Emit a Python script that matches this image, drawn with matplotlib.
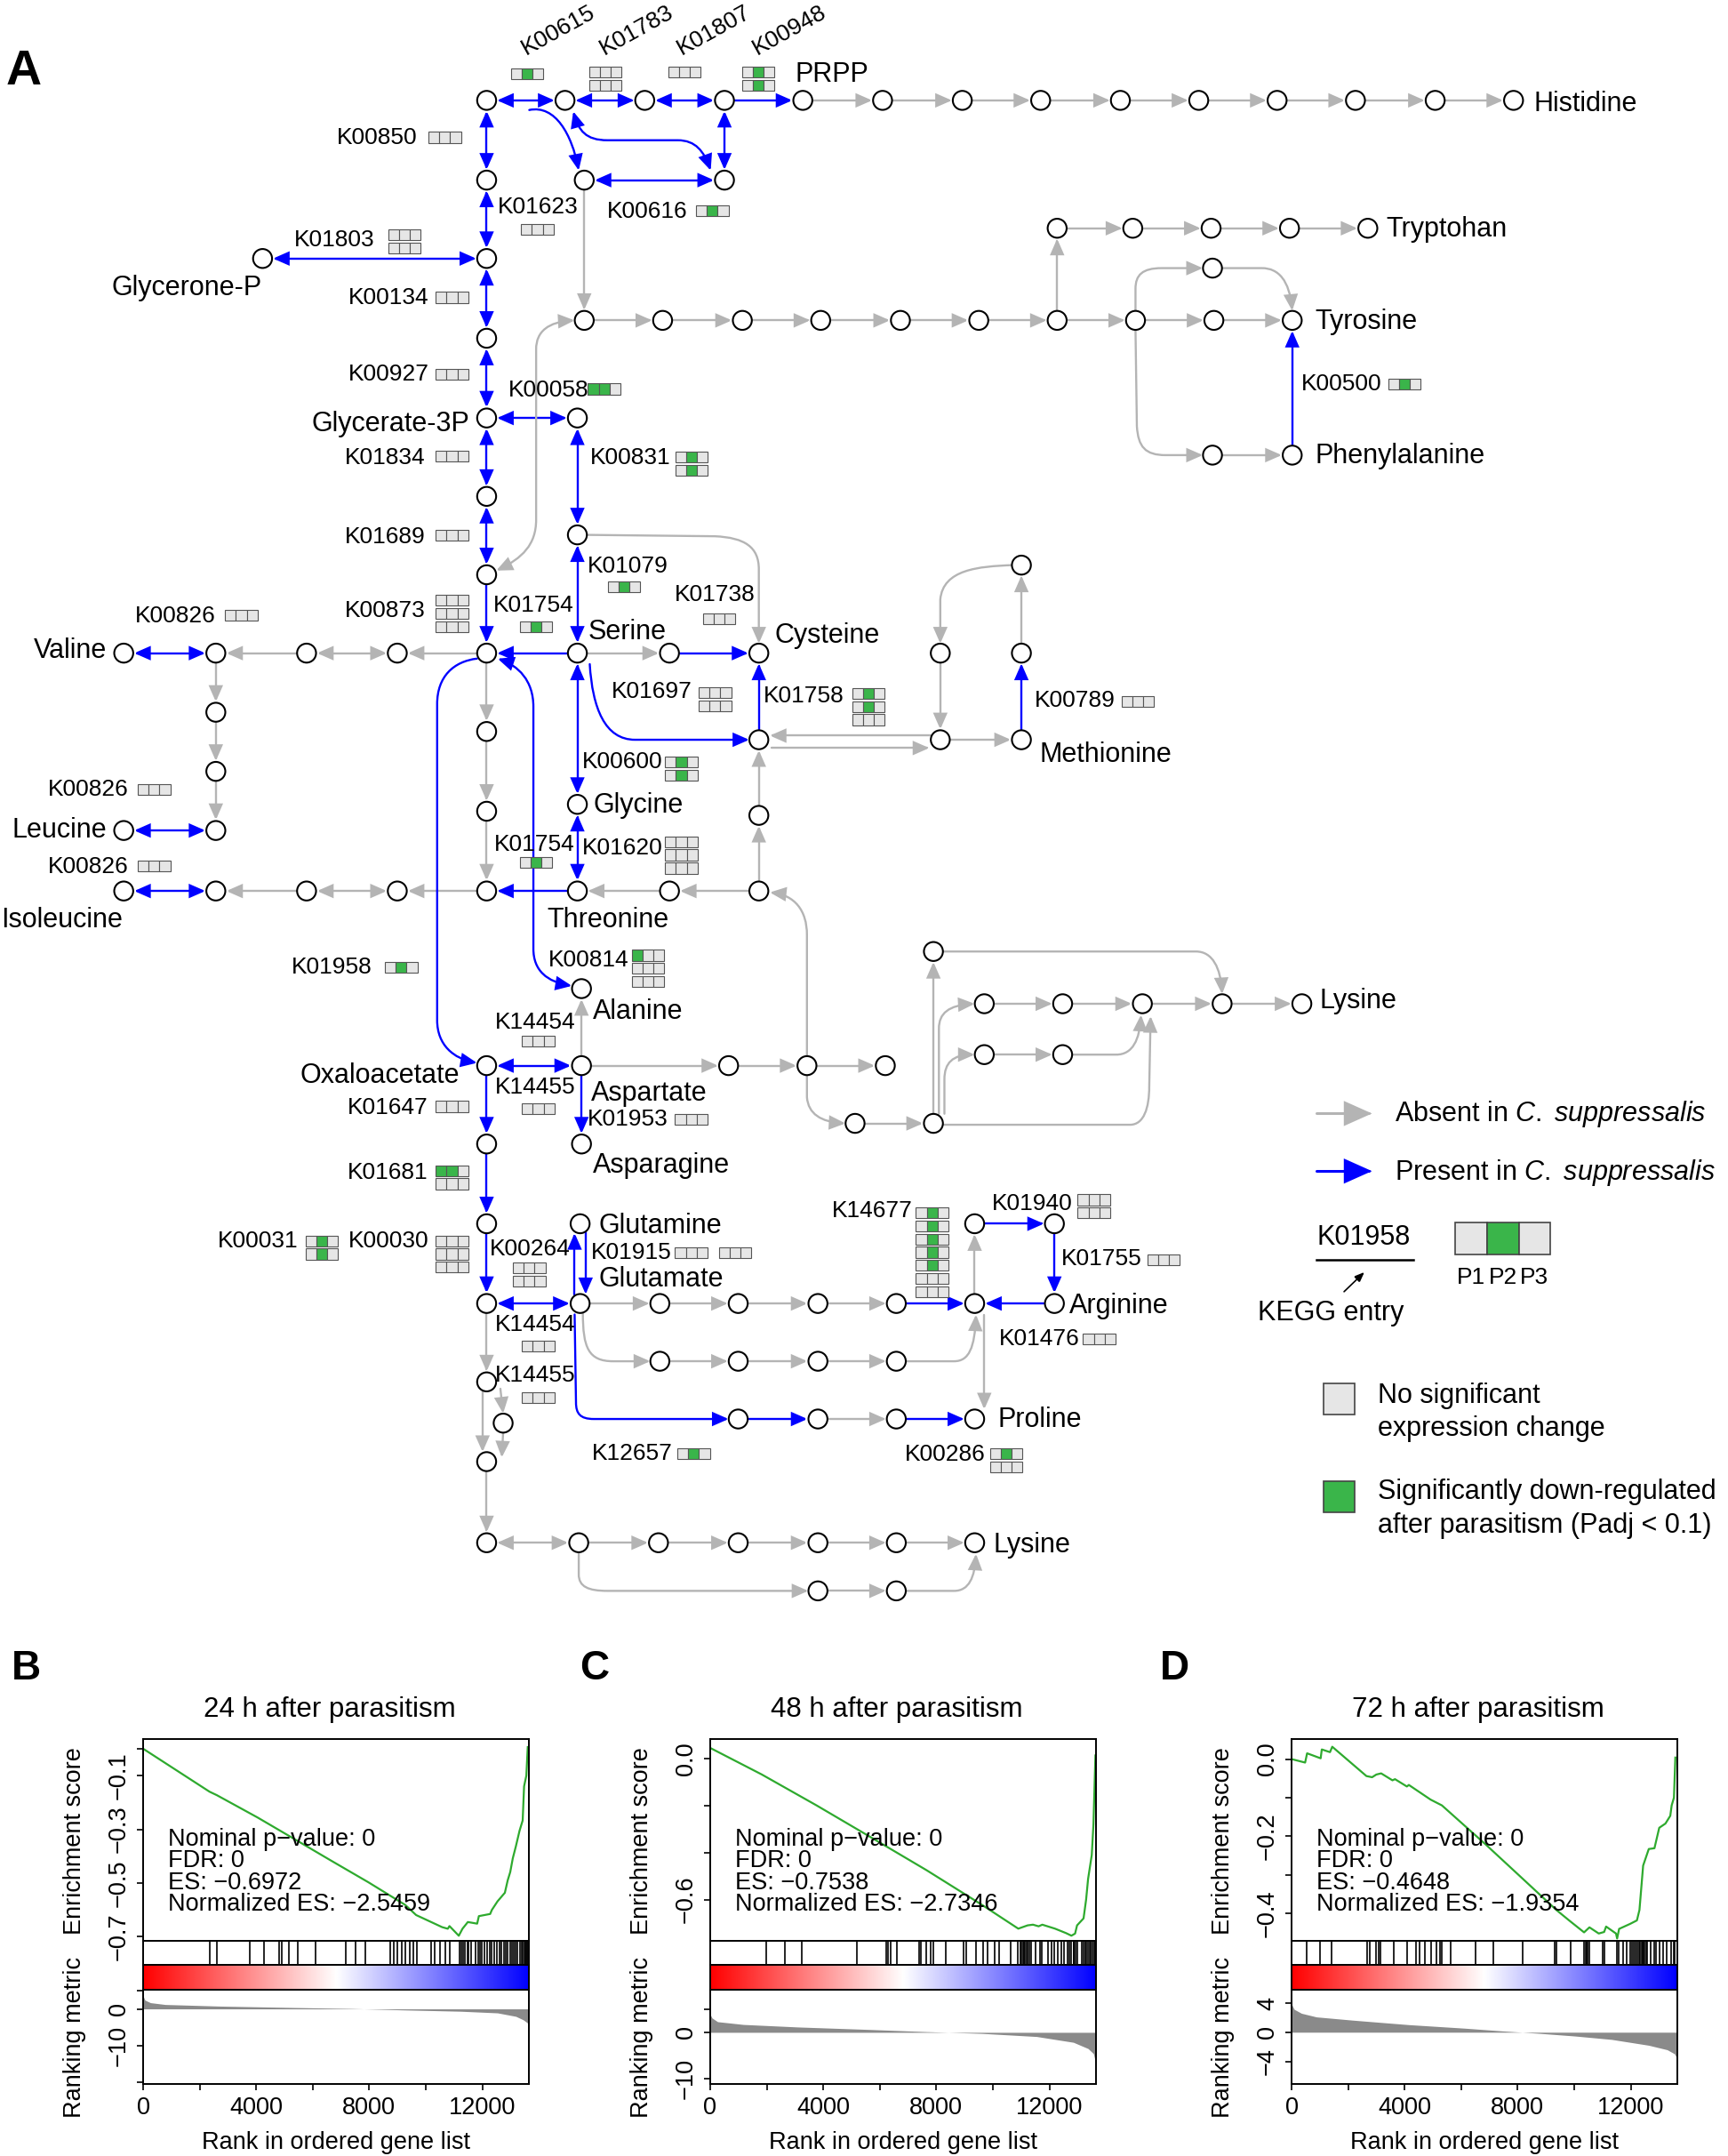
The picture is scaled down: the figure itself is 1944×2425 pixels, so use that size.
import numpy as np
import matplotlib
matplotlib.use('Agg')
import matplotlib.pyplot as plt
from matplotlib.patches import FancyArrowPatch, Circle, Rectangle, ArrowStyle
from matplotlib.path import Path
from matplotlib.colors import LinearSegmentedColormap

plt.rcParams['font.family'] = ['Liberation Sans', 'DejaVu Sans']
plt.rcParams['mathtext.fontset'] = 'custom'
plt.rcParams['mathtext.rm'] = 'Liberation Sans'
plt.rcParams['mathtext.it'] = 'Liberation Sans:italic'

# ---------------------------------------------------------------- data
NODES = {
    't0': (354, 73), 't1': (411, 73), 't2': (469, 73), 't3': (527, 73), 'PRPP': (584, 73),
    'h1': (642, 73), 'h2': (700, 73), 'h3': (757, 73), 'h4': (815, 73), 'h5': (872, 73),
    'h6': (929, 73), 'h7': (986, 73), 'h8': (1044, 73), 'His': (1101, 73),
    'u1': (425, 131), 'u2': (527, 131),
    'c131': (354, 131), 'c188': (354, 188), 'c246': (354, 246), 'c304': (354, 304),
    'c361': (354, 361), 'c418': (354, 418), 'hub': (354, 475), 'c532': (354, 532),
    'c590': (354, 590), 'c648': (354, 648), 'Oxa': (354, 775), 'c832': (354, 832),
    'c890': (354, 890), 'c948': (354, 948), 'c1005': (354, 1005), 'c1063': (354, 1063),
    'c1122': (354, 1122), 'x366': (366, 1035),
    'GlyP': (191, 188), 's304': (420, 304), 's389': (420, 389), 'Ser': (420, 475),
    's487': (487, 475), 'Cys': (552, 475), 'c538': (552, 538),
    'm1': (684, 475), 'm2': (743, 475), 'm3': (743, 411), 'm4': (684, 538), 'Met': (743, 538),
    'Gly': (420, 585), 'c593': (552, 593), 'Thr': (420, 648), 't487': (487, 648),
    't552': (552, 648), 'Ala': (423, 719),
    'g0': (425, 233), 'g1': (482, 233), 'g2': (540, 233), 'g3': (597, 233), 'g4': (655, 233),
    'g5': (712, 233), 'g6': (769, 233), 'g7': (826, 233), 'g8': (883, 233), 'Tyr': (940, 233),
    'w0': (769, 166), 'w1': (824, 166), 'w2': (881, 166), 'w3': (938, 166), 'Trp': (995, 166),
    'ty1': (882, 195), 'ph1': (882, 331), 'Phe': (940, 331),
    'v290': (289, 475), 'v223': (223, 475), 'v157': (157, 475), 'Val': (90, 475),
    'l518': (157, 518), 'l561': (157, 561), 'l604': (157, 604), 'Leu': (90, 604),
    'i290': (289, 648), 'i223': (223, 648), 'i157': (157, 648), 'Ile': (90, 648),
    'Asp': (423, 775), 'a530': (530, 775), 'a587': (587, 775), 'a644': (644, 775),
    'Asn': (423, 832), 'a622': (622, 817), 'a679': (679, 817),
    'k679': (679, 692), 'k716a': (716, 730), 'k773a': (773, 730), 'k831': (831, 730),
    'k889': (889, 730), 'Lys1': (947, 730), 'k716b': (716, 767), 'k773b': (773, 767),
    'Gln': (422, 890), 'Glu': (422, 948), 'e480': (480, 948), 'e537': (537, 948),
    'e595': (595, 948), 'e652': (652, 948), 'e709': (709, 948), 'Arg': (767, 948),
    'r709': (709, 890), 'r767': (767, 890), 'f480': (480, 990), 'f537': (537, 990),
    'f595': (595, 990), 'f652': (652, 990), 'p537': (537, 1032), 'p595': (595, 1032),
    'p652': (652, 1032), 'Pro': (709, 1032),
    'y421': (421, 1122), 'y479': (479, 1122), 'y537': (537, 1122), 'y595': (595, 1122),
    'y652': (652, 1122), 'Lys2': (709, 1122), 'z595': (595, 1157), 'z652': (652, 1157),
}

BLUE_DOUBLE = [('t0', 't1'), ('t1', 't2'), ('t2', 't3'), ('t3', 'u2'), ('u1', 'u2'),
               ('t0', 'c131'), ('c131', 'c188'), ('c188', 'c246'), ('c246', 'c304'),
               ('c304', 'c361'), ('c361', 'c418'), ('GlyP', 'c188'), ('c304', 's304'),
               ('s304', 's389'), ('s389', 'Ser'), ('Ser', 'Gly'), ('Gly', 'Thr'),
               ('Val', 'v157'), ('Leu', 'l604'), ('Ile', 'i157'), ('Oxa', 'Asp'), ('c948', 'Glu')]
BLUE_SINGLE = [('t3', 'PRPP'), ('c418', 'hub'), ('Ser', 'hub'), ('Thr', 'c648'), ('s487', 'Cys'),
               ('c538', 'Cys'), ('Met', 'm2'), ('Phe', 'Tyr'), ('Oxa', 'c832'), ('c832', 'c890'),
               ('c890', 'c948'), ('Asp', 'Asn'), ('e652', 'e709'), ('Arg', 'e709'),
               ('r709', 'r767'), ('r767', 'Arg'), ('p537', 'p595'), ('p652', 'Pro')]
BLUE_OFFSET = [('Gln', 'Glu', 4), ('Glu', 'Gln', -4)]
GRAY_DOUBLE = [('v290', 'v223'), ('i290', 'i223'), ('c1122', 'y421')]
GRAY_SINGLE = [('PRPP', 'h1'), ('h1', 'h2'), ('h2', 'h3'), ('h3', 'h4'), ('h4', 'h5'),
               ('h5', 'h6'), ('h6', 'h7'), ('h7', 'h8'), ('h8', 'His'), ('u1', 'g0'),
               ('g0', 'g1'), ('g1', 'g2'), ('g2', 'g3'), ('g3', 'g4'), ('g4', 'g5'), ('g5', 'g6'),
               ('g6', 'g7'), ('g7', 'g8'), ('g8', 'Tyr'), ('g6', 'w0'), ('w0', 'w1'), ('w1', 'w2'),
               ('w2', 'w3'), ('w3', 'Trp'), ('ph1', 'Phe'), ('Ser', 's487'), ('m4', 'Met'),
               ('m2', 'm3'), ('m1', 'm4'), ('c593', 'c538'), ('t552', 'c593'), ('t552', 't487'),
               ('t487', 'Thr'), ('hub', 'v290'), ('v223', 'v157'), ('v157', 'l518'),
               ('l518', 'l561'), ('l561', 'l604'), ('c648', 'i290'), ('i223', 'i157'),
               ('hub', 'c532'), ('c532', 'c590'), ('c590', 'c648'), ('Asp', 'a530'),
               ('a530', 'a587'), ('a587', 'a644'), ('Asp', 'Ala'), ('a622', 'a679'),
               ('a679', 'k679'), ('k716a', 'k773a'), ('k773a', 'k831'), ('k831', 'k889'),
               ('k889', 'Lys1'), ('k716b', 'k773b'), ('Glu', 'e480'), ('e480', 'e537'),
               ('e537', 'e595'), ('e595', 'e652'), ('e709', 'r709'), ('f480', 'f537'),
               ('f537', 'f595'), ('f595', 'f652'), ('p595', 'p652'), ('c948', 'c1005'),
               ('c1063', 'c1122'), ('y421', 'y479'), ('y479', 'y537'), ('y537', 'y595'),
               ('y595', 'y652'), ('y652', 'Lys2'), ('z595', 'z652')]

# curved / routed connections: (colour, style, waypoints; a list = cubic segment)
CURVES = [
    ('b', '->', [(385, 80), [(404, 76), (416, 98), (421, 124)]]),
    ('b', '<->', [(417, 81), [(421, 95), (426, 102), (442, 102)], (493, 102),
                  [(506, 102), (512, 110), (517, 124)]]),
    ('b', '->', [(347, 479), [(330, 481), (318, 492), (318, 512)], (318, 742),
                 [(318, 760), (330, 770), (347, 773)]]),
    ('b', '<->', [(362, 479), [(377, 484), (388, 495), (388, 514)], (388, 690),
                  [(388, 706), (398, 714), (416, 717)]]),
    ('b', '->', [(429, 483), [(431, 515), (440, 538), (462, 538)], (545, 538)]),
    ('b', '->', [(418, 956), (419, 1020), [(419, 1028), (422, 1032), (432, 1032)], (530, 1032)]),
    ('g', '<->', [(361, 415), [(380, 406), (390, 396), (390, 378)], (390, 254),
                  [(390, 241), (399, 234), (418, 233)]]),
    ('g', '->', [(826, 226), (826, 210), [(826, 200), (831, 195), (845, 195)], (875, 195)]),
    ('g', '->', [(889, 195), (918, 195), [(930, 195), (938, 204), (940, 226)]]),
    ('g', '->', [(826, 240), (827, 310), [(828, 325), (833, 331), (848, 331)], (875, 331)]),
    ('g', '->', [(736, 411), [(712, 412), (686, 414), (684, 436)], (684, 468)]),
    ('g', '->', [(427, 389), (520, 390), [(542, 391), (552, 398), (552, 414)], (552, 468)]),
    ('g', '->', [(677, 535), (560, 535)]),
    ('g', '->', [(561, 544), (676, 544)]),
    ('g', '->', [(587, 768), (587, 680), [(587, 662), (578, 651), (560, 649)]]),
    ('g', '->', [(587, 782), (587, 798), [(588, 810), (597, 816), (615, 817)]]),
    ('g', '->', [(683, 810), (683, 748), [(683, 737), (690, 731), (709, 730)]]),
    ('g', '->', [(687, 810), (687, 785), [(687, 773), (693, 767), (709, 767)]]),
    ('g', '->', [(686, 692), (870, 692), [(882, 692), (888, 704), (889, 723)]]),
    ('g', '->', [(780, 767), (812, 767), [(824, 767), (829, 756), (830, 738)]]),
    ('g', '->', [(686, 818), (822, 818), [(832, 818), (836, 806), (836, 790)], (837, 739)]),
    ('g', '->', [(424, 955), [(424, 980), (428, 990), (446, 990)], (473, 990)]),
    ('g', '->', [(659, 990), (694, 990), [(705, 990), (709, 980), (710, 956)]]),
    ('g', '->', [(716, 956), (716, 1025)]),
    ('g', '->', [(351, 1012), (351, 1056)]),
    ('g', '->', [(364, 1010), (366, 1028)]),
    ('g', '->', [(366, 1042), (365, 1060)]),
    ('g', '->', [(421, 1129), (421, 1145), [(421, 1154), (428, 1157), (442, 1157)], (588, 1157)]),
    ('g', '->', [(659, 1157), (694, 1157), [(705, 1157), (709, 1147), (710, 1130)]]),
]

# KEGG entries: text, x, baseline
KEGG_ROT = [('K00615', 406, 22), ('K01783', 463, 22), ('K01807', 519.5, 22), ('K00948', 574.5, 22)]
KEGG_LABELS = [
    ('K00850', 244.8, 105.0), ('K01623', 362, 155.2), ('K00616', 441.4, 158.2),
    ('K01803', 214, 179.2), ('K00134', 253.5, 221.2), ('K00927', 253.5, 277.0),
    ('K00058', 369.5, 288.2), ('K01834', 250.6, 337.6), ('K00831', 429.2, 337.6),
    ('K01689', 250.6, 394.9), ('K01079', 427.4, 416.7), ('K01738', 490.5, 437.0),
    ('K00826', 98.2, 452.4), ('K00873', 250.6, 448.7), ('K01754', 358.8, 444.8),
    ('K01697', 445, 507.4), ('K01758', 555.4, 510.8), ('K00789', 752.3, 513.8),
    ('K00600', 423.6, 558.6), ('K00826', 34.6, 579.0), ('K00826', 34.6, 634.8),
    ('K01754', 359.4, 618.6), ('K01620', 423.6, 621.2), ('K01958', 212, 708.2),
    ('K00814', 398.6, 703.0), ('K14454', 360.3, 747.8), ('K14455', 360.3, 795.6),
    ('K01647', 252.6, 810.5), ('K01953', 427.5, 818.7), ('K01681', 252.6, 857.5),
    ('K00031', 158.2, 906.9), ('K00030', 253.5, 906.9), ('K00264', 356.5, 913.2),
    ('K01915', 429.8, 915.8), ('K14454', 360.3, 968.2), ('K14455', 360.3, 1004.8),
    ('K14677', 605, 885.2), ('K01940', 721.4, 880.0), ('K01755', 771.9, 920.4),
    ('K01476', 727, 978.5), ('K12657', 430.7, 1061.6), ('K00286', 657.9, 1062.1),
    ('K00500', 946.3, 283.9),
]
# expression grids: x, y(top), rows (1 = significantly down-regulated) for P1 P2 P3
GRIDS = [
    (371.5, 49.5, '010'), (428.4, 48.5, '000/000'), (486, 48.5, '000'), (539.8, 48.5, '010/010'),
    (311.7, 96, '000'), (379, 163, '000'), (506.3, 149.5, '010'), (282.3, 167, '000/000'),
    (317, 212.3, '000'), (317, 268.4, '000'), (427.7, 279, '110'), (317, 327.9, '000'),
    (491.3, 328.6, '010/010'), (317, 385.3, '000'), (442, 423, '010'), (511.2, 446, '000'),
    (163.7, 443.6, '000'), (317, 432.6, '000/000/000'), (378, 451.7, '010'),
    (508.2, 500, '000/000'), (619.8, 500.3, '010/010/000'), (815.8, 506, '000'),
    (483.8, 550.3, '010/010'), (100.2, 570, '000'), (100.2, 625.6, '000'), (378, 623.5, '010'),
    (483.8, 608.2, '000/000/000'), (280, 699.8, '010'), (459.6, 690.8, '100/000/000'),
    (379.6, 753, '000'), (379.6, 802.6, '000'), (317, 800.8, '000'), (491, 810.3, '000'),
    (317, 847.4, '110/000'), (222.3, 898.5, '010/010'), (317, 898.5, '000/000/000'),
    (373, 918.2, '000/000'), (491, 907, '000'), (523, 907, '000'), (379.6, 975.2, '000'),
    (379.6, 1012.3, '000'), (666.3, 878, '010/010/010/010/010/000/000'),
    (784, 868.6, '000/000'), (834.6, 912.3, '000'), (787.8, 969.6, '000'),
    (492.7, 1053.2, '010'), (720, 1053.2, '010/000'), (1009.8, 275.4, '010'),
]
# metabolite names: text, x, baseline, alignment
METABOLITES = [
    ('PRPP', 578.5, 59.2, 'left'), ('Histidine', 1116, 81, 'left'), ('Tryptohan', 1008, 172.3, 'left'),
    ('Tyrosine', 956.5, 239.4, 'left'), ('Phenylalanine', 956.5, 337.2, 'left'),
    ('Glycerone-P', 190.5, 214.7, 'right'), ('Glycerate-3P', 341.5, 313.6, 'right'),
    ('Serine', 427.5, 465, 'left'), ('Cysteine', 563.3, 467.2, 'left'),
    ('Methionine', 756, 554.2, 'left'), ('Valine', 77.4, 478.7, 'right'),
    ('Glycine', 431.9, 591.2, 'left'), ('Leucine', 77.4, 609.2, 'right'),
    ('Isoleucine', 0.5, 674.2, 'left'), ('Threonine', 398, 674.2, 'left'),
    ('Alanine', 431.3, 740.8, 'left'), ('Lysine', 960, 733.2, 'left'),
    ('Oxaloacetate', 334, 787.4, 'right'), ('Aspartate', 429.8, 800.2, 'left'),
    ('Asparagine', 431.3, 852.6, 'left'), ('Glutamine', 435.6, 896.8, 'left'),
    ('Glutamate', 435.6, 935.6, 'left'), ('Arginine', 777.7, 954.9, 'left'),
    ('Proline', 725.7, 1038, 'left'), ('Lysine', 722.8, 1128.8, 'left'),
]

# GSEA panels
N_GENES = 13650
ES_B_RANK = [0, 2350, 2610, 4050, 5350, 6660, 7970, 9270, 9660, 10580, 10780, 10840, 11170,
             11300, 11490, 11820, 11880, 12280, 12340, 12540, 12800, 12900, 12990, 13080,
             13190, 13320, 13430, 13480, 13560, 13610]
ES_B_VAL = [0.0, -0.160, -0.173, -0.256, -0.336, -0.417, -0.497, -0.581, -0.619, -0.664, -0.670,
            -0.660, -0.696, -0.670, -0.645, -0.651, -0.623, -0.615, -0.600, -0.568, -0.536,
            -0.490, -0.459, -0.408, -0.363, -0.305, -0.267, -0.140, -0.100, 0.006]
HITS_B = [2351, 2612, 3761, 4284, 4806, 4898, 5159, 5485, 6112, 7183, 7510, 7875, 8750, 8855,
          8985, 9142, 9273, 9430, 9560, 9691, 10187, 10317, 10513, 10709, 10840, 11206, 11258,
          11336, 11389, 11467, 11519, 11598, 11754, 11859, 11911, 11990, 12081, 12172, 12251,
          12342, 12408, 12512, 12603, 12669, 12773, 12825, 12904, 12995, 13060, 13125, 13191,
          13256, 13321, 13386, 13426, 13478, 13517, 13556, 13595, 13630]
RANK_B_X = [0, 65, 260, 780, 2740, 5350, 7320, 9270, 11230, 12540, 13190, 13450, 13610, 13650]
RANK_B_Y = [3.55, 2.4, 1.7, 1.2, 0.75, 0.37, 0.1, -0.3, -0.65, -1.1, -2.05, -3.0, -3.9, -4.9]

ES_C_RANK = [0, 1820, 3760, 5710, 7660, 9610, 10900, 11230, 11420, 11620, 11750, 12200, 12590,
             12780, 12910, 12980, 13210, 13300, 13370, 13500, 13560, 13630]
ES_C_VAL = [0.047, -0.066, -0.198, -0.336, -0.475, -0.622, -0.724, -0.710, -0.707, -0.714,
            -0.707, -0.724, -0.743, -0.754, -0.745, -0.710, -0.680, -0.600, -0.512, -0.410,
            -0.278, 0.015]
HITS_C = [1986, 2635, 3245, 5192, 6230, 6295, 6386, 6620, 7399, 7464, 7658, 7814, 7892, 8333,
          8956, 9047, 9411, 9670, 9800, 10060, 10228, 10618, 10877, 10968, 11007, 11059, 11098,
          11137, 11189, 11241, 11293, 11358, 11526, 11656, 11747, 11942, 12071, 12175, 12305,
          12435, 12526, 12656, 12720, 12785, 12850, 12876, 12915, 12980, 13136, 13214, 13266,
          13318, 13369, 13421, 13473, 13525, 13577, 13629]
RANK_C_X = [0, 65, 260, 1170, 3120, 5710, 7660, 9610, 11550, 12850, 13370, 13560, 13650]
RANK_C_Y = [3.85, 3.1, 2.3, 1.7, 1.15, 0.6, 0.15, -0.23, -0.9, -2.15, -3.5, -4.6, -6.9]

ES_D_RANK = [0, 480, 550, 1030, 1070, 1360, 1440, 2650, 2850, 3000, 3170, 3570, 3660, 4080,
             4150, 4920, 5320, 6880, 8060, 9370, 9820, 10350, 10540, 10870, 11060, 11130,
             11480, 11520, 11590, 11980, 12220, 12310, 12440, 12640, 12840, 13010, 13230,
             13400, 13450, 13530, 13580]
ES_D_VAL = [0.0, -0.009, 0.015, 0.002, 0.025, 0.018, 0.032, -0.044, -0.047, -0.040, -0.037,
            -0.055, -0.052, -0.071, -0.067, -0.105, -0.120, -0.222, -0.302, -0.391, -0.418,
            -0.449, -0.436, -0.452, -0.448, -0.434, -0.452, -0.465, -0.440, -0.427, -0.418,
            -0.391, -0.276, -0.233, -0.231, -0.178, -0.167, -0.147, -0.120, -0.100, 0.004]
HITS_D = [549, 1006, 1424, 2677, 2769, 2991, 3069, 3160, 3617, 4075, 4401, 4532, 4728, 4924,
          5120, 5250, 5315, 5642, 6517, 7144, 8163, 9299, 9365, 9887, 10344, 10410, 10449,
          10488, 10540, 10998, 11063, 11520, 11585, 11716, 11847, 11977, 12043, 12108, 12173,
          12239, 12304, 12343, 12383, 12422, 12461, 12500, 12539, 12579, 12696, 12827, 12892,
          13023, 13153, 13284, 13415, 13519, 13571]
RANK_D_X = [0, 90, 350, 880, 2180, 4140, 6100, 7410, 8720, 10030, 11330, 12640, 13290, 13550, 13650]
RANK_D_Y = [3.86, 3.15, 2.6, 2.1, 1.65, 1.04, 0.56, 0.19, -0.14, -0.52, -0.99, -1.79, -2.4, -2.96, -3.67]

STATS_B = ['Nominal p\u2212value: 0', 'FDR: 0', 'ES: \u22120.6972', 'Normalized ES: \u22122.5459']
STATS_C = ['Nominal p\u2212value: 0', 'FDR: 0', 'ES: \u22120.7538', 'Normalized ES: \u22122.7346']
STATS_D = ['Nominal p\u2212value: 0', 'FDR: 0', 'ES: \u22120.4648', 'Normalized ES: \u22121.9354']

# ---------------------------------------------------------------- style
BLUE = '#0000FF'
GRAY = '#B4B4B4'
GREEN = '#3AB54A'
CELL_GRAY = '#E6E6E6'
ES_GREEN = '#2EAA2E'
R_NODE = 6.9
COLS = {'b': BLUE, 'g': GRAY}

W, H = 1944, 2425
fig = plt.figure(figsize=(W / 100, H / 100), dpi=100)
ax = fig.add_axes([0, 0, 1, 1])
ax.set_xlim(0, 1257)
ax.set_ylim(1568, 0)
ax.axis('off')


def draw_path(pts, color, style, lw=1.7, hl=10.5, hw=4.6, z=2):
    verts = [pts[0]]
    codes = [Path.MOVETO]
    for it in pts[1:]:
        if isinstance(it, list):
            verts += it
            codes += [Path.CURVE4] * 3
        else:
            verts.append(it)
            codes.append(Path.LINETO)
    name = {'->': '-|>', '<->': '<|-|>'}[style]
    st = ArrowStyle(name, head_length=hl, head_width=hw)
    p = FancyArrowPatch(path=Path(verts, codes), arrowstyle=st, color=color, lw=lw,
                        mutation_scale=1, zorder=z, joinstyle='miter')
    ax.add_patch(p)


def straight(a, b, color, style, off=0.0):
    (x0, y0), (x1, y1) = NODES[a], NODES[b]
    d = np.hypot(x1 - x0, y1 - y0)
    ux, uy = (x1 - x0) / d, (y1 - y0) / d
    x0, x1 = x0 + off * (-uy), x1 + off * (-uy)
    y0, y1 = y0 + off * ux, y1 + off * ux
    R = np.sqrt(max(7.6 ** 2 - off ** 2, 1))
    draw_path([(x0 + ux * R, y0 + uy * R), (x1 - ux * R, y1 - uy * R)], color, style)


for a, b in BLUE_DOUBLE:
    straight(a, b, BLUE, '<->')
for a, b in BLUE_SINGLE:
    straight(a, b, BLUE, '->')
for a, b, o in BLUE_OFFSET:
    (xa, ya), (xb, yb) = NODES[a], NODES[b]
    sgn = 1 if yb > ya else -1
    draw_path([(xa + o, ya + sgn * 6.5), (xb + o, yb - sgn * 6.8)], BLUE, '->')
for a, b in GRAY_DOUBLE:
    straight(a, b, GRAY, '<->')
for a, b in GRAY_SINGLE:
    straight(a, b, GRAY, '->')
for c, s, pts in CURVES:
    draw_path(pts, COLS[c], s)

for name, (x, y) in NODES.items():
    ax.add_patch(Circle((x, y), R_NODE, fc='white', ec='black', lw=1.5, zorder=4))

for t, x, y in KEGG_ROT:
    ax.text(x, y, t, fontsize=19, rotation=29, ha='center', va='center', rotation_mode='anchor')
for t, x, y in KEGG_LABELS:
    ax.text(x, y, t, fontsize=19, ha='left', va='baseline', zorder=5)

CW = 7.9
for gx, gy, rows in GRIDS:
    for r, row in enumerate(rows.split('/')):
        for i, ch in enumerate(row):
            ax.add_patch(Rectangle((gx + i * CW, gy + r * 9.6), CW, CW,
                                   fc=GREEN if ch == '1' else CELL_GRAY, ec='#555555', lw=0.8, zorder=5))

for t, x, y, ha in METABOLITES:
    ax.text(x, y, t, fontsize=22, ha=ha, va='baseline', zorder=5)

ax.text(4.3, 61.4, 'A', fontsize=40, fontweight='bold', ha='left', va='baseline')

# ---------------------------------------------------------------- legend
draw_path([(957.7, 809.8), (998, 809.8)], GRAY, '->', lw=2.2, hl=19, hw=8.5)
draw_path([(957.7, 851.7), (998, 851.7)], BLUE, '->', lw=2.2, hl=19, hw=8.5)
ax.text(1014.4, 815.4, 'Absent in $\\mathit{C.\\ suppressalis}$', fontsize=22, va='baseline')
ax.text(1014.4, 857.8, 'Present in $\\mathit{C.\\ suppressalis}$', fontsize=22, va='baseline')
ax.text(957.7, 905.1, 'K01958', fontsize=22, va='baseline')
ax.plot([957.7, 1028], [916, 916], color='black', lw=1.8)
draw_path([(977.7, 939.4), (992.5, 925.2)], 'black', '->', lw=1.2, hl=6.5, hw=2.6)
ax.text(914.8, 960.0, 'KEGG entry', fontsize=22, va='baseline')
for i, ch in enumerate('010'):
    ax.add_patch(Rectangle((1058.7 + i * 23.1, 889.3), 23.1, 23.3,
                           fc=GREEN if ch == '1' else CELL_GRAY, ec='#444444', lw=1.2, zorder=5))
for i, t in enumerate(['P1', 'P2', 'P3']):
    ax.text(1070.2 + i * 23.0, 933.6, t, fontsize=19, ha='center', va='baseline')
ax.add_patch(Rectangle((962.8, 1006.4), 22.9, 22.6, fc=CELL_GRAY, ec='#444444', lw=1.2))
ax.add_patch(Rectangle((962.8, 1077.0), 22.9, 22.6, fc=GREEN, ec='#444444', lw=1.2))
ax.text(1002.3, 1020.1, 'No significant', fontsize=22, va='baseline')
ax.text(1002.3, 1044.4, 'expression change', fontsize=22, va='baseline')
ax.text(1002.3, 1090.4, 'Significantly down-regulated', fontsize=22, va='baseline')
ax.text(1002.3, 1114.7, 'after parasitism (Padj < 0.1)', fontsize=22, va='baseline')

# ---------------------------------------------------------------- GSEA panels
RWB = LinearSegmentedColormap.from_list('rwb', ['#FF0000', '#FFFFFF', '#0000FF'])
FS = 19.5


def style_ax(a):
    for s in a.spines.values():
        s.set_linewidth(1.4)
    a.tick_params(direction='out', length=5, width=1.2, labelsize=FS, pad=5)


def gsea_panel(left, letter, title, es_r, es_v, hits, rk_x, rk_y, es_lim, es_ticks, es_lbls,
               rk_lim, rk_ticks, rk_lbls, stats):
    w = 434

    def fa(top, bot):
        return fig.add_axes([left / W, 1 - bot / H, w / W, (bot - top) / H])

    a1 = fa(1956, 2183)
    a2 = fa(2183, 2210)
    a3 = fa(2210, 2238)
    a4 = fa(2238, 2344)
    for a in (a1, a2, a3, a4):
        style_ax(a)
        a.set_xlim(0, N_GENES)
    a1.plot(es_r, es_v, color=ES_GREEN, lw=1.6)
    a1.set_ylim(*es_lim)
    a1.set_xticks([])
    a1.set_yticks(es_ticks)
    a1.set_yticklabels(es_lbls, rotation=90, va='center')
    a1.text(0.065, 0.56, '\n'.join(stats), transform=a1.transAxes, ha='left', va='top',
            fontsize=FS, linespacing=0.92)
    a2.vlines(hits, 0, 1, color='black', lw=1.2)
    a2.set_ylim(0, 1)
    a2.set_xticks([])
    a2.set_yticks([])
    a3.imshow(np.linspace(0, 1, 512)[None, :], aspect='auto', cmap=RWB,
              extent=[0, N_GENES, 0, 1])
    a3.set_xlim(0, N_GENES)
    a3.set_xticks([])
    a3.set_yticks([])
    a4.fill_between(rk_x, rk_y, 0, color='#8A8A8A', lw=0)
    a4.set_ylim(*rk_lim)
    a4.set_yticks(rk_ticks)
    a4.set_yticklabels(rk_lbls, rotation=90, va='center')
    a4.set_xticks([0, 2000, 4000, 6000, 8000, 10000, 12000])
    a4.set_xticklabels(['0', '', '4000', '', '8000', '', '12000'])
    cx = (left + w / 2) / W
    fig.text(cx - 7 / W, 1 - 1931 / H, title, fontsize=22.5, ha='center', va='baseline')
    fig.text(cx, 1 - 2417 / H, 'Rank in ordered gene list', fontsize=FS, ha='center', va='baseline')
    fig.text((left - 77) / W, 1 - 2071 / H, 'Enrichment score', fontsize=FS, rotation=90,
             ha='center', va='center')
    fig.text((left - 77) / W, 1 - 2292 / H, 'Ranking metric', fontsize=FS, rotation=90,
             ha='center', va='center')
    fig.text(letter[1] / W, 1 - 1889.4 / H, letter[0], fontsize=33, fontweight='bold',
             ha='left', va='baseline')


gsea_panel(161, ('B', 12.4), '24 h after parasitism', ES_B_RANK, ES_B_VAL, HITS_B, RANK_B_X, RANK_B_Y,
           (-0.715, 0.036), [0.0, -0.1, -0.3, -0.5, -0.7], ['', '\u22120.1', '\u22120.3', '\u22120.5', '\u22120.7'],
           (-20.6, 5.25), [5, 0, -10, -20], ['', '0', '\u221210', ''], STATS_B)
gsea_panel(799, ('C', 652), '48 h after parasitism', ES_C_RANK, ES_C_VAL, HITS_C, RANK_C_X, RANK_C_Y,
           (-0.776, 0.085), [0.0, -0.2, -0.4, -0.6], ['0.0', '', '', '\u22120.6'],
           (-11.15, 9.2), [5, 0, -10], ['', '0', '\u221210'], STATS_C)
gsea_panel(1453, ('D', 1304.4), '72 h after parasitism', ES_D_RANK, ES_D_VAL, HITS_D, RANK_D_X, RANK_D_Y,
           (-0.471, 0.052), [0.0, -0.1, -0.2, -0.3, -0.4], ['0.0', '', '\u22120.2', '', '\u22120.4'],
           (-7.1, 5.83), [4, 0, -4], ['4', '0', '\u22124'], STATS_D)

fig.savefig('out.png', dpi=100)
